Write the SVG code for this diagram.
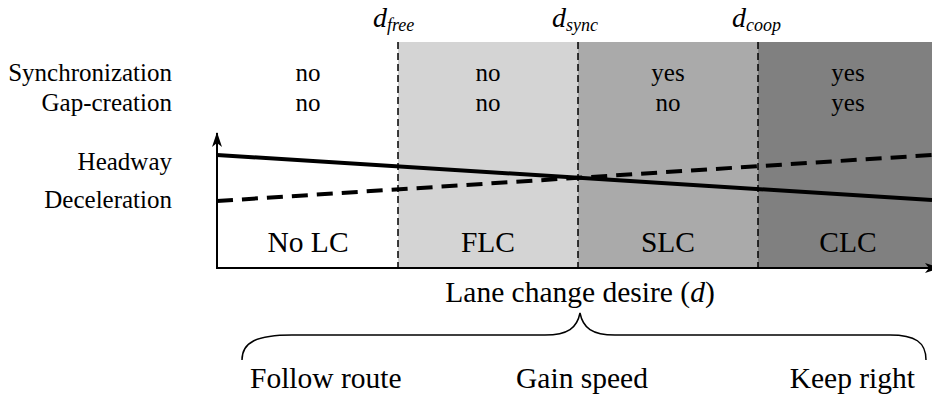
<svg xmlns="http://www.w3.org/2000/svg" width="932" height="399" viewBox="0 0 932 399">
<defs>
<style>
text{font-family:"Liberation Serif","Times New Roman",serif;fill:#000}
.lbl{font-size:25px;text-anchor:end}
.big{font-size:29.5px}
.v{font-size:25px;text-anchor:middle}
.sep{stroke:#000;stroke-width:1.5;stroke-dasharray:7 4;fill:none}
.ax{stroke:#000;stroke-width:2;fill:none}
</style>
<marker id="ah" viewBox="0 0 15 10" refX="14" refY="5" markerWidth="15" markerHeight="10" markerUnits="userSpaceOnUse" orient="auto">
<path d="M0,0 L15,5 L0,10 L4,5 Z" fill="#000"/>
</marker>
</defs>
<rect width="932" height="399" fill="#fff"/>
<g id="regions">
<rect x="398" y="42" width="180" height="226" fill="#d4d4d4"/>
<rect x="578" y="42" width="180" height="226" fill="#aaaaaa"/>
<rect x="758" y="42" width="174" height="226" fill="#808080"/>
</g>
<g id="thresholds">
<line class="sep" x1="398" y1="42" x2="398" y2="268"/>
<line class="sep" x1="578" y1="42" x2="578" y2="268"/>
<line class="sep" x1="758" y1="42" x2="758" y2="268"/>
<text x="373" y="27" font-style="italic"><tspan font-size="28">d</tspan><tspan font-size="18" dy="4">free</tspan></text>
<text x="552" y="27" font-style="italic"><tspan font-size="28">d</tspan><tspan font-size="18" dy="4">sync</tspan></text>
<text x="732" y="27" font-style="italic"><tspan font-size="28">d</tspan><tspan font-size="18" dy="4">coop</tspan></text>
</g>
<g id="rowlabels">
<text class="lbl" x="172" y="81">Synchronization</text>
<text class="lbl" x="172" y="111">Gap-creation</text>
<text class="lbl" x="172" y="170">Headway</text>
<text class="lbl" x="172" y="208">Deceleration</text>
</g>
<g id="values">
<text class="v" x="308" y="81">no</text>
<text class="v" x="308" y="111">no</text>
<text class="v" x="488" y="81">no</text>
<text class="v" x="488" y="111">no</text>
<text class="v" x="668" y="81">yes</text>
<text class="v" x="668" y="111">no</text>
<text class="v" x="848" y="81">yes</text>
<text class="v" x="848" y="111">yes</text>
</g>
<g id="connectors">
<line class="ax" x1="217" y1="269" x2="217" y2="133" marker-end="url(#ah)"/>
<line class="ax" x1="216" y1="268" x2="939" y2="268" marker-end="url(#ah)"/>
<line x1="217" y1="155" x2="932" y2="200" stroke="#000" stroke-width="4"/>
<line x1="217" y1="201" x2="932" y2="155" stroke="#000" stroke-width="4" stroke-dasharray="16 9"/>
<path d="M242,360 C242,342 257,335 292,335 L545,335 C568,335 577,328 580,313 C583,328 592,335 615,335 L890,335 C915,335 926,342 926,360" fill="none" stroke="#000" stroke-width="1.5"/>
</g>
<g id="modes">
<text class="big" x="308" y="252" text-anchor="middle">No LC</text>
<text class="big" x="488" y="252" text-anchor="middle">FLC</text>
<text class="big" x="668" y="252" text-anchor="middle">SLC</text>
<text class="big" x="848" y="252" text-anchor="middle">CLC</text>
</g>
<g id="axislabel">
<text class="big" x="580" y="302" text-anchor="middle">Lane change desire (<tspan font-style="italic">d</tspan>)</text>
</g>
<g id="incentives">
<text class="big" x="250" y="388">Follow route</text>
<text class="big" x="582" y="388" text-anchor="middle">Gain speed</text>
<text class="big" x="915" y="388" text-anchor="end">Keep right</text>
</g>
</svg>
